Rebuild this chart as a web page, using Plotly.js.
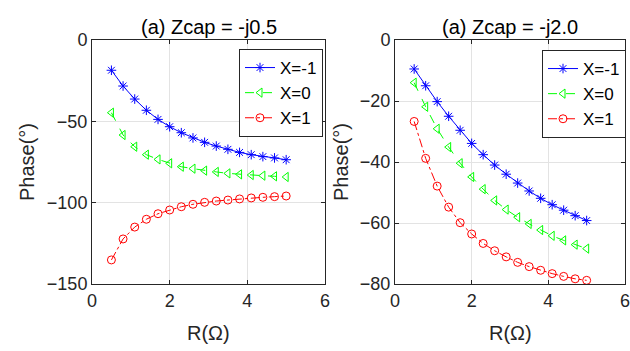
<!DOCTYPE html>
<html>
<head>
<meta charset="utf-8">
<script src="https://cdn.plot.ly/plotly-3.0.1.min.js"></script>
<style>html,body{margin:0;padding:0;background:#fff}#chart{width:630px;height:351px}</style>
</head>
<body>
<div id="chart"></div>
<script>
// Resistance values (Ω)
const R = [0.5, 0.8, 1.1, 1.4, 1.7, 2.0, 2.3, 2.6, 2.9, 3.2, 3.5, 3.8, 4.1, 4.4, 4.7, 5.0];

// Panel (a) Zcap = -j0.5
const seriesNames = ['X=-1', 'X=0', 'X=1'];
const phaseA_Xm1 = [-18.6, -28.3, -36.3, -43.2, -48.8, -53.3, -57.0, -60.2, -62.9, -65.2, -67.2, -69.1, -70.5, -71.7, -72.5, -73.6];
const phaseA_X0  = [-44.7, -58.4, -65.6, -70.5, -73.4, -75.8, -77.9, -79.1, -80.3, -81.1, -82.0, -82.6, -83.0, -83.4, -83.8, -84.2];
const phaseA_Xp1 = [-135.2, -122.3, -115.0, -110.2, -106.8, -104.5, -102.5, -101.0, -99.8, -99.0, -98.4, -97.7, -97.1, -96.7, -96.3, -95.9];

// Panel (b) Zcap = -j2.0
const phaseB_Xm1 = [-9.5, -15.0, -20.2, -25.0, -29.6, -33.9, -37.6, -41.0, -44.0, -46.9, -49.5, -51.9, -54.0, -55.8, -57.6, -59.2];
const phaseB_X0  = [-14.0, -21.9, -29.1, -35.1, -40.4, -44.9, -48.9, -52.6, -55.6, -58.1, -60.3, -62.3, -64.2, -65.7, -67.1, -68.4];
const phaseB_Xp1 = [-26.7, -38.8, -47.9, -54.8, -59.9, -63.6, -66.7, -69.1, -71.1, -72.9, -74.3, -75.5, -76.6, -77.5, -78.3, -78.8];

const titles = ['(a) Zcap = -j0.5', '(a) Zcap = -j2.0'];
const xTitle = 'R(Ω)';
const yTitle = 'Phase(°)';
const xTicks = [0, 2, 4, 6];
const yTicksA = [-150, -100, -50, 0];
const yTicksB = [-80, -60, -40, -20, 0];

const FONT = 'Liberation Sans, Arial, sans-serif';
const styles = [
  {color: '#0000ff', dash: 'solid', symbol: 'asterisk-open'},
  {color: '#00ff00', dash: 'dash', symbol: 'triangle-left-open'},
  {color: '#ff0000', dash: 'dashdot', symbol: 'circle-open'}
];

function mk(y, i, xa, ya, leg) {
  const s = styles[i];
  return {
    x: R, y: y, name: seriesNames[i], type: 'scatter', mode: 'lines+markers',
    xaxis: xa, yaxis: ya, legend: leg,
    line: {color: s.color, width: 1, dash: s.dash},
    marker: {symbol: s.symbol, size: 8, color: s.color, line: {color: s.color, width: 1}}
  };
}

const data = [
  mk(phaseA_Xm1, 0, 'x', 'y', 'legend'),
  mk(phaseA_X0, 1, 'x', 'y', 'legend'),
  mk(phaseA_Xp1, 2, 'x', 'y', 'legend'),
  mk(phaseB_Xm1, 0, 'x2', 'y2', 'legend2'),
  mk(phaseB_X0, 1, 'x2', 'y2', 'legend2'),
  mk(phaseB_Xp1, 2, 'x2', 'y2', 'legend2')
];

const W = 630, H = 351;
const axBase = {
  showline: true, mirror: 'ticks', linecolor: '#262626', linewidth: 1,
  ticks: 'inside', ticklen: 4, tickcolor: '#262626',
  showgrid: true, gridcolor: '#e3e3e3', gridwidth: 1,
  zeroline: false, ticklabeloverflow: 'allow',
  tickfont: {family: FONT, size: 18, color: '#262626'}
};
const yTop = 1 - 40 / H, yBot = 1 - 284 / H;

const legBase = {
  bgcolor: '#ffffff', bordercolor: '#262626', borderwidth: 1,
  font: {family: FONT, size: 17, color: '#000'},
  xanchor: 'left', yanchor: 'top', tracegroupgap: 0, itemwidth: 30
};

const layout = {
  width: W, height: H,
  margin: {l: 0, r: 0, t: 0, b: 0},
  paper_bgcolor: '#fff', plot_bgcolor: '#fff',
  font: {family: FONT},
  xaxis: Object.assign({}, axBase, {domain: [92 / W, 325 / W], range: [0, 6], tickvals: xTicks, anchor: 'y'}),
  yaxis: Object.assign({}, axBase, {domain: [yBot, yTop], range: [-150, 0], tickvals: yTicksA, anchor: 'x'}),
  xaxis2: Object.assign({}, axBase, {domain: [395 / W, 625 / W], range: [0, 6], tickvals: xTicks, anchor: 'y2'}),
  yaxis2: Object.assign({}, axBase, {domain: [yBot, yTop], range: [-80, 0], tickvals: yTicksB, anchor: 'x2'}),
  legend: Object.assign({}, legBase, {x: 239 / W, y: 1 - 49 / H}),
  legend2: Object.assign({}, legBase, {x: 542 / W, y: 1 - 50 / H}),
  annotations: [
    {text: titles[0], xref: 'paper', yref: 'paper', x: (92 + 325) / 2 / W, y: 1 - 27 / H, xanchor: 'center', yanchor: 'middle', showarrow: false, font: {family: FONT, size: 20, color: '#000'}},
    {text: titles[1], xref: 'paper', yref: 'paper', x: (395 + 625) / 2 / W, y: 1 - 27 / H, xanchor: 'center', yanchor: 'middle', showarrow: false, font: {family: FONT, size: 20, color: '#000'}},
    {text: xTitle, xref: 'paper', yref: 'paper', x: (92 + 325) / 2 / W, y: 1 - 333 / H, xanchor: 'center', yanchor: 'middle', showarrow: false, font: {family: FONT, size: 20, color: '#262626'}},
    {text: xTitle, xref: 'paper', yref: 'paper', x: (395 + 625) / 2 / W, y: 1 - 333 / H, xanchor: 'center', yanchor: 'middle', showarrow: false, font: {family: FONT, size: 20, color: '#262626'}},
    {text: yTitle, xref: 'paper', yref: 'paper', x: 27 / W, y: 1 - 162 / H, xanchor: 'center', yanchor: 'middle', textangle: -90, showarrow: false, font: {family: FONT, size: 20, color: '#262626'}},
    {text: yTitle, xref: 'paper', yref: 'paper', x: 341 / W, y: 1 - 162 / H, xanchor: 'center', yanchor: 'middle', textangle: -90, showarrow: false, font: {family: FONT, size: 20, color: '#262626'}}
  ]
};

Plotly.newPlot('chart', data, layout, {staticPlot: true, displayModeBar: false});
</script>
</body>
</html>
